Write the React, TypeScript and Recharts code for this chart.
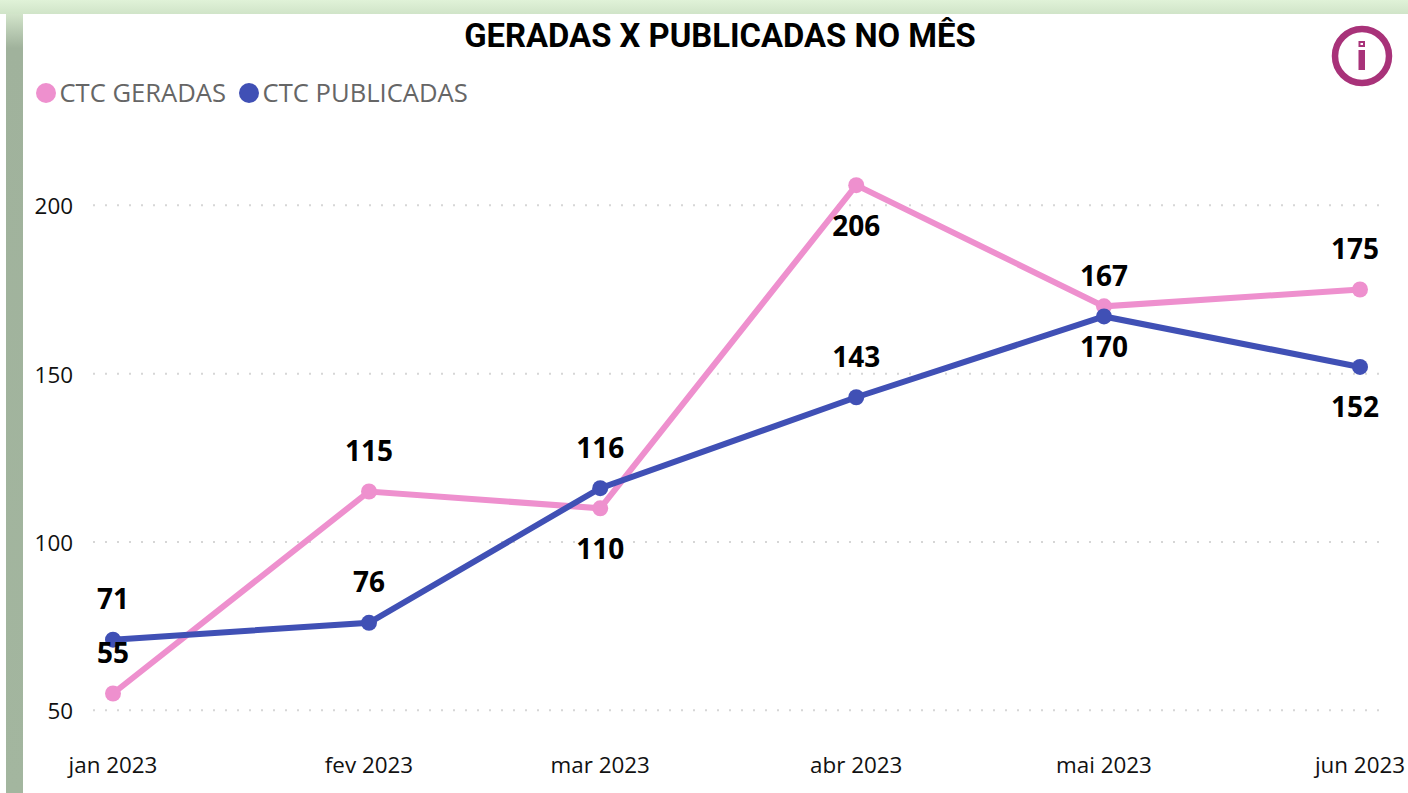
import React from "react";
import { LineChart, Line, XAxis, YAxis, CartesianGrid } from "recharts";

const PINK = "#EE90CE";
const BLUE = "#4050B5";
const SANS = "'Open Sans', 'Noto Sans', sans-serif";

// days since jan 1st, the axis is a time axis so months are not evenly spaced
const dayOffsets = [0, 31, 59, 90, 120, 151];
const monthLabels = ["jan 2023", "fev 2023", "mar 2023", "abr 2023", "mai 2023", "jun 2023"];
const geradas = [55, 115, 110, 206, 170, 175];
const publicadas = [71, 76, 116, 143, 167, 152];
const geradasPlacement = ["top", "top", "bottom", "bottom", "bottom", "top"];
const publicadasPlacement = ["top", "top", "top", "top", "top", "bottom"];
const yTicks = [50, 100, 150, 200];

const chartData = dayOffsets.map((day, i) => ({
  day,
  geradas: geradas[i],
  publicadas: publicadas[i],
}));

function pointLabel(placement: string[]) {
  return (props: any) => {
    const { x, y, index, value } = props;
    const above = placement[index] === "top";
    return (
      <text
        x={Math.min(x, 1355)}
        y={above ? y - 30.5 : y + 50.5}
        textAnchor="middle"
        fontFamily={SANS}
        fontSize={28}
        fontWeight={700}
        fill="#000"
      >
        {value}
      </text>
    );
  };
}

function LegendItem({ color, name }: { color: string; name: string }) {
  return (
    <span style={{ display: "inline-flex", alignItems: "center", marginRight: 13 }}>
      <span
        style={{ width: 20, height: 20, borderRadius: 10, background: color, marginRight: 3.5 }}
      />
      {name}
    </span>
  );
}

export default function App() {
  return (
    <div
      style={{
        position: "absolute",
        left: 0,
        top: 0,
        width: 1408,
        height: 793,
        overflow: "hidden",
        background: "#fff",
      }}
    >
      <div
        style={{
          position: "absolute",
          left: 0,
          top: 0,
          width: 1408,
          height: 14,
          background: "linear-gradient(#e0f2d8, #d0e4c8)",
        }}
      />
      <div
        style={{
          position: "absolute",
          left: 6,
          top: 14,
          width: 17,
          height: 779,
          background: "linear-gradient(#d2e4ca 0px, #a0b29c 34px, #a3b69f 100%)",
        }}
      />
      <div
        style={{
          position: "absolute",
          left: 0,
          top: 16,
          width: 1440,
          textAlign: "center",
          fontFamily: "Roboto, sans-serif",
          fontWeight: 700,
          fontSize: 34,
          lineHeight: "38px",
          color: "#000",
          transform: "scaleX(0.965)",
        }}
      >
        GERADAS X PUBLICADAS NO MÊS
      </div>
      <div
        style={{
          position: "absolute",
          left: 36,
          top: 75,
          fontFamily: SANS,
          fontSize: 25.6,
          lineHeight: "36px",
          color: "#666",
          whiteSpace: "nowrap",
        }}
      >
        <LegendItem color={PINK} name="CTC GERADAS" />
        <LegendItem color={BLUE} name="CTC PUBLICADAS" />
      </div>
      <svg style={{ position: "absolute", left: 1330, top: 25 }} width={64} height={62}>
        <circle cx={32} cy={31} r={27} fill="none" stroke="#A83279" strokeWidth={6.5} />
        <rect x={28.5} y={25} width={6.5} height={20} fill="#A83279" />
        <rect x={28.5} y={16} width={6.5} height={6} fill="#A83279" />
        <rect x={30.5} y={18} width={2.5} height={2} fill="#fff" />
      </svg>
      <div style={{ position: "absolute", left: 0, top: 0 }}>
        <LineChart
          width={1408}
          height={793}
          data={chartData}
          margin={{ top: 138, right: 28, bottom: 0, left: 0 }}
        >
          <CartesianGrid
            horizontal
            vertical={false}
            syncWithTicks
            stroke="#d6d6d6"
            strokeWidth={2}
            strokeDasharray="2 10"
          />
          <XAxis
            dataKey="day"
            type="number"
            domain={[0, 151]}
            ticks={dayOffsets}
            interval={0}
            padding={{ left: 20, right: 20 }}
            height={49}
            axisLine={false}
            tickLine={false}
            tickMargin={7}
            tick={{ fontFamily: SANS, fontSize: 22.4, fill: "#111" }}
            tickFormatter={(day: number) => monthLabels[dayOffsets.indexOf(day)]}
          />
          <YAxis
            type="number"
            domain={[40, 220]}
            ticks={yTicks}
            width={93}
            axisLine={false}
            tickLine={false}
            tickMargin={14}
            tick={{ fontFamily: SANS, fontSize: 22.4, fill: "#111", dy: 1 }}
          />
          <Line
            dataKey="geradas"
            stroke={PINK}
            strokeWidth={6}
            dot={{ r: 8, fill: PINK, stroke: PINK, strokeWidth: 0 }}
            label={pointLabel(geradasPlacement)}
            isAnimationActive={false}
          />
          <Line
            dataKey="publicadas"
            stroke={BLUE}
            strokeWidth={6}
            dot={{ r: 8, fill: BLUE, stroke: BLUE, strokeWidth: 0 }}
            label={pointLabel(publicadasPlacement)}
            isAnimationActive={false}
          />
        </LineChart>
      </div>
    </div>
  );
}
